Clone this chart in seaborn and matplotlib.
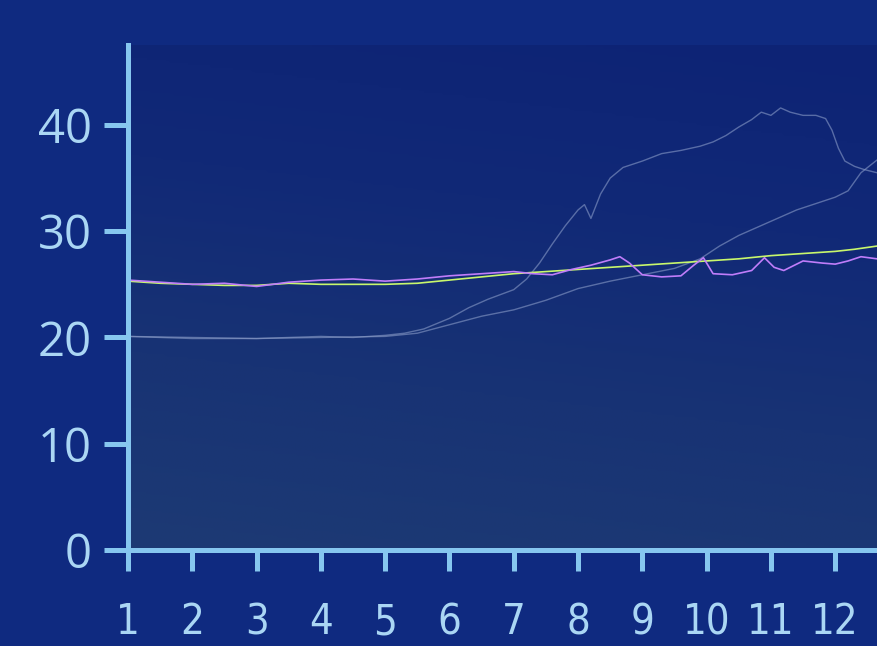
import numpy as np
import pandas as pd
import matplotlib.pyplot as plt
from matplotlib.colors import LinearSegmentedColormap
import seaborn as sns

# data
peak_x = [1, 1.5, 2, 2.5, 3, 3.5, 4, 4.5, 5, 5.3, 5.6, 6, 6.3, 6.6, 7, 7.2, 7.4, 7.6, 7.8,
          8.0, 8.1, 8.2, 8.35, 8.5, 8.7, 9, 9.3, 9.6, 9.9, 10.1, 10.3, 10.5, 10.7, 10.85,
          11, 11.15, 11.3, 11.5, 11.7, 11.85, 11.95, 12.05, 12.15, 12.3, 12.45, 12.65]
peak_y = [20.1, 20.0, 19.9, 19.9, 19.9, 20.0, 20.1, 20.0, 20.2, 20.4, 20.8, 21.8, 22.8, 23.6,
          24.5, 25.5, 27.0, 28.8, 30.5, 32.0, 32.5, 31.2, 33.5, 35.0, 36.0, 36.6, 37.3, 37.6,
          38.0, 38.4, 39.0, 39.8, 40.5, 41.2, 40.9, 41.6, 41.2, 40.9, 40.9, 40.6, 39.5, 37.8,
          36.6, 36.1, 35.8, 35.5]

slow_x = [1, 2, 3, 4, 5, 5.5, 6, 6.5, 7, 7.5, 8, 8.5, 9, 9.5, 9.9, 10.2, 10.5, 10.8, 11.1,
          11.4, 11.7, 12, 12.2, 12.4, 12.65]
slow_y = [20.1, 20.0, 19.9, 20.0, 20.1, 20.4, 21.2, 22.0, 22.6, 23.5, 24.6, 25.3, 25.9, 26.5,
          27.4, 28.6, 29.6, 30.4, 31.2, 32.0, 32.6, 33.2, 33.8, 35.5, 36.7]

green_x = [1, 1.5, 2, 2.5, 3, 3.5, 4, 4.5, 5, 5.5, 6, 6.5, 7, 7.5, 8, 8.5, 9, 9.5, 10, 10.5,
           11, 11.5, 12, 12.3, 12.65]
green_y = [25.3, 25.1, 25.0, 24.9, 24.9, 25.1, 25.0, 25.0, 25.0, 25.1, 25.4, 25.7, 26.0, 26.2,
           26.4, 26.6, 26.8, 27.0, 27.2, 27.4, 27.7, 27.9, 28.1, 28.3, 28.6]

purple_x = [1, 1.5, 2, 2.5, 3, 3.5, 4, 4.5, 5, 5.5, 6, 6.5, 7, 7.3, 7.6, 7.9, 8.2, 8.5, 8.65,
            8.8, 9.0, 9.3, 9.6, 9.8, 9.95, 10.1, 10.4, 10.7, 10.9, 11.05, 11.2, 11.5, 11.8,
            12.0, 12.2, 12.4, 12.65]
purple_y = [25.4, 25.2, 25.0, 25.1, 24.8, 25.2, 25.4, 25.5, 25.3, 25.5, 25.8, 26.0, 26.2, 26.0,
            25.9, 26.4, 26.8, 27.3, 27.6, 27.0, 25.9, 25.7, 25.8, 26.8, 27.5, 26.0, 25.9, 26.3,
            27.5, 26.6, 26.3, 27.2, 27.0, 26.9, 27.2, 27.6, 27.4]

x_ticks = list(range(1, 13))
y_ticks = [0, 10, 20, 30, 40]

sns.set_style("ticks")
plt.rcParams['font.family'] = ['Open Sans', 'DejaVu Sans']

axis_col = '#86c6ef'
text_col = '#aad6f4'

fig = plt.figure(figsize=(8.77, 6.46), dpi=100)
fig.patch.set_facecolor('#0f2a80')
ax = fig.add_axes([0.146, 0.1486, 0.854, 0.7814])

xmin, xmax, ymin, ymax = 1, 12.65, 0, 47.5

# background gradient of the plot area
cmap = LinearSegmentedColormap.from_list('bg', ['#0d2375', '#112977', '#183374', '#1d3a74'])
gy, gx = np.mgrid[0:1:200j, 0:1:200j]
grad = gy * 0.85 + (1 - gx) * 0.15
ax.imshow(grad, extent=[xmin, xmax, ymin, ymax], origin='upper', aspect='auto',
          cmap=cmap, zorder=0, vmin=0, vmax=1)

series = [
    (peak_x, peak_y, '#8a9cc8', 0.6, 1.0),
    (slow_x, slow_y, '#8a9cc8', 0.6, 1.0),
    (green_x, green_y, '#c8f76c', 1.0, 1.2),
    (purple_x, purple_y, '#c07dfa', 1.0, 1.2),
]
for xs, ys, col, a, lw in series:
    d = pd.DataFrame({'x': xs, 'y': ys})
    sns.lineplot(data=d, x='x', y='y', ax=ax, color=col, alpha=a, linewidth=lw,
                 estimator=None, zorder=3)

ax.set_xlim(xmin, xmax)
ax.set_ylim(ymin, ymax)
ax.set_xlabel('')
ax.set_ylabel('')

for s in ['top', 'right']:
    ax.spines[s].set_visible(False)
for s in ['left', 'bottom']:
    ax.spines[s].set_color(axis_col)
    ax.spines[s].set_linewidth(3.6)
    ax.spines[s].set_zorder(5)

ax.set_xticks(x_ticks)
ax.set_yticks(y_ticks)
ax.tick_params(axis='x', length=15, width=3.6, color=axis_col, pad=22)
ax.tick_params(axis='y', length=17, width=3.6, color=axis_col, pad=9)
ax.set_xticklabels([str(v) for v in x_ticks], fontsize=30, color=text_col,
                   family=['DejaVu Sans'], fontstretch='condensed')
ax.set_yticklabels([str(v) for v in y_ticks], fontsize=34, color=text_col)

fig.savefig('out.png', dpi=100, facecolor=fig.get_facecolor())
